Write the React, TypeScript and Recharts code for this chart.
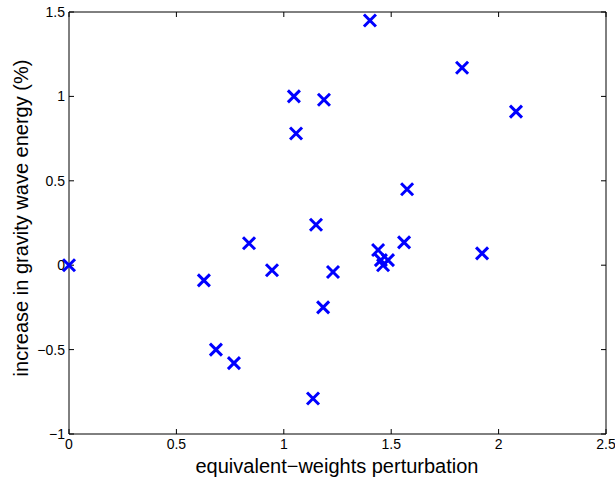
import React from 'react';
import { ScatterChart, Scatter, XAxis, YAxis, Label } from 'recharts';

// equivalent-weights perturbation vs increase in gravity wave energy (%)
const perturbation = [
  0, 0.628, 0.684, 0.768, 0.838, 0.945, 1.047, 1.057, 1.136, 1.15, 1.183, 1.187,
  1.229, 1.401, 1.439, 1.452, 1.462, 1.485, 1.56, 1.574, 1.83, 1.923, 2.081,
];
const energyIncrease = [
  0, -0.09, -0.5, -0.58, 0.13, -0.03, 1.0, 0.78, -0.79, 0.24, -0.25, 0.98,
  -0.04, 1.45, 0.09, 0.03, 0.0, 0.03, 0.135, 0.45, 1.17, 0.07, 0.91,
];
const xTicks = [0, 0.5, 1, 1.5, 2, 2.5];
const yTicks = [-1, -0.5, 0, 0.5, 1, 1.5];

const points = perturbation.map((x, i) => ({ x, y: energyIncrease[i] }));

const FONT = '"Liberation Sans", Arial, Helvetica, sans-serif';
const BLUE = '#0000ff';

const fmt = (v: number) => (v < 0 ? '\u2212' + Math.abs(v) : String(v));

const Cross = (props: any) => {
  const { cx, cy } = props;
  const h = 6;
  return (
    <g stroke={BLUE} strokeWidth={3}>
      <line x1={cx - h} y1={cy - h} x2={cx + h} y2={cy + h} />
      <line x1={cx - h} y1={cy + h} x2={cx + h} y2={cy - h} />
    </g>
  );
};

const tickStyle = { fill: '#000', fontSize: 14, fontFamily: FONT };

export default function App() {
  return (
    <div style={{ position: 'absolute', left: 0, top: 0, background: '#fff' }}>
      <ScatterChart width={615} height={480} margin={{ top: 11, right: 8, bottom: 0, left: 0 }}>
        <XAxis
          type="number"
          dataKey="x"
          xAxisId="main"
          domain={[0, 2.5]}
          ticks={xTicks}
          interval={0}
          tickFormatter={fmt}
          height={46}
          tickSize={-5}
          tickMargin={10}
          stroke="#000"
          tick={tickStyle}
        >
          <Label
            content={() => (
              <text x={337} y={466} textAnchor="middle" dominantBaseline="central" fontSize={20} fontFamily={FONT} fill="#000">
                equivalent{'\u2212'}weights perturbation
              </text>
            )}
          />
        </XAxis>
        <XAxis
          type="number"
          dataKey="x"
          xAxisId="top"
          orientation="top"
          domain={[0, 2.5]}
          ticks={xTicks}
          interval={0}
          tickFormatter={() => ''}
          height={1}
          tickSize={-5}
          tickMargin={0}
          stroke="#000"
        />
        <YAxis
          type="number"
          dataKey="y"
          yAxisId="main"
          domain={[-1, 1.5]}
          ticks={yTicks}
          interval={0}
          tickFormatter={fmt}
          width={69}
          tickSize={-5}
          tickMargin={9}
          stroke="#000"
          tick={tickStyle}
        >
          <Label
            content={() => (
              <text
                x={21}
                y={218}
                textAnchor="middle"
                dominantBaseline="central"
                transform="rotate(-90 21 218)"
                fontSize={20}
                fontFamily={FONT}
                fill="#000"
              >
                increase in gravity wave energy (%)
              </text>
            )}
          />
        </YAxis>
        <YAxis
          type="number"
          dataKey="y"
          yAxisId="right"
          orientation="right"
          domain={[-1, 1.5]}
          ticks={yTicks}
          interval={0}
          tickFormatter={() => ''}
          width={1}
          tickSize={-5}
          tickMargin={0}
          stroke="#000"
        />
        {/* invisible series so the top/right box axes get drawn */}
        <Scatter
          data={points}
          xAxisId="top"
          yAxisId="right"
          shape={() => <g />}
          isAnimationActive={false}
        />
        <Scatter
          data={points}
          xAxisId="main"
          yAxisId="main"
          shape={Cross}
          isAnimationActive={false}
        />
      </ScatterChart>
    </div>
  );
}
